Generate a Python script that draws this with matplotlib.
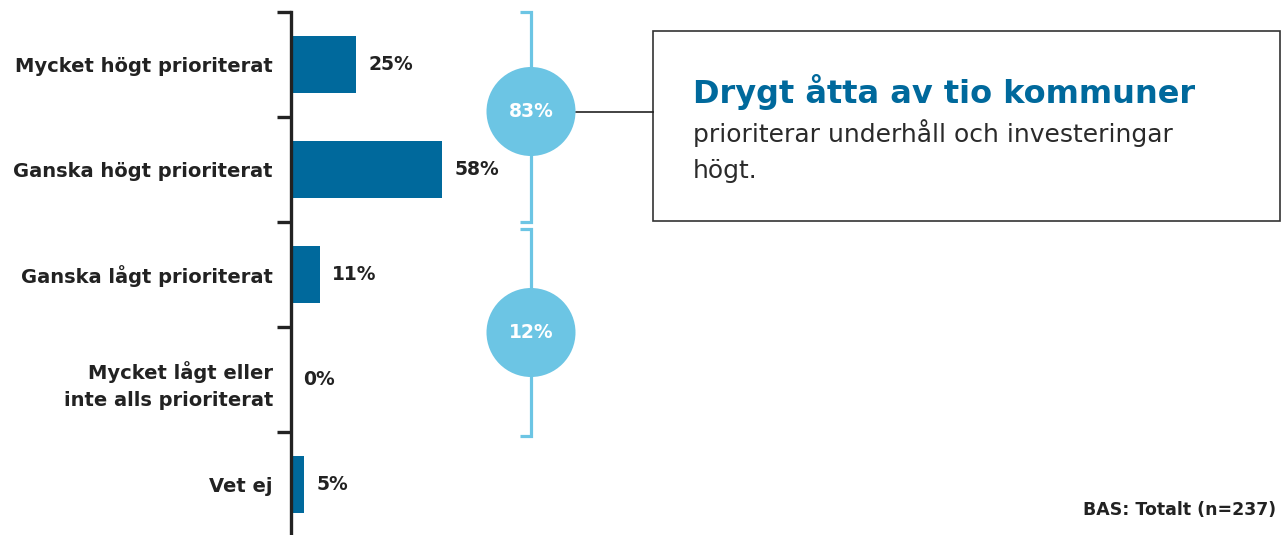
import matplotlib
matplotlib.use("Agg")
import matplotlib.pyplot as plt
from matplotlib.patches import Circle, Rectangle

# ---- data ----
categories = ["Mycket högt prioriterat", "Ganska högt prioriterat", "Ganska lågt prioriterat",
              "Mycket lågt eller\ninte alls prioriterat", "Vet ej"]
values = [25, 58, 11, 0, 5]
group_spans = [(0, 1), (2, 3)]
group_values = [83, 12]
box_title = "Drygt åtta av tio kommuner"
box_body_lines = ["prioriterar underhåll och investeringar", "högt."]
base_note = "BAS: Totalt (n=237)"

BAR = "#00699c"
LIGHT = "#6cc5e4"
DARK = "#222222"
plt.rcParams["font.family"] = ["DejaVu Sans"]

W, H = 1282, 535
fig = plt.figure(figsize=(W / 100, H / 100), dpi=100)

# main bar axes
ax = fig.add_axes([291 / W, -2 / H, (W - 291) / W, 525 / H])
y = list(range(len(categories)))
ax.barh(y, values, height=0.55, color=BAR)
ax.set_xlim(0, (W - 291) / 2.6)
ax.set_ylim(len(categories) - 0.5, -0.5)
for s in ["top", "right", "bottom"]:
    ax.spines[s].set_visible(False)
ax.spines["left"].set_linewidth(2.4)
ax.spines["left"].set_color(DARK)
ax.set_xticks([])
ax.set_yticks(y)
ax.set_yticklabels(categories, fontsize=14, fontweight="bold", color=DARK, linespacing=1.55)
ax.tick_params(axis="y", which="major", length=0, pad=13)
ax.set_yticks([i - 0.5 for i in range(len(categories) + 1)], minor=True)
ax.tick_params(axis="y", which="minor", length=10, width=2.4, color=DARK, direction="out")
ax.patch.set_alpha(0)
for yi, v in zip(y, values):
    ax.annotate(f"{v}%", (v, yi), xytext=(9, 0), textcoords="offset points",
                va="center", ha="left", fontsize=13.5, fontweight="bold", color=DARK)

# overlay axes in pixel coordinates for the annotations
ov = fig.add_axes([0, 0, 1, 1], zorder=3)
ov.set_xlim(0, W)
ov.set_ylim(H, 0)
ov.axis("off")
ov.patch.set_alpha(0)

fig.canvas.draw()


def to_px(yv):
    return H - ax.transData.transform((0, yv))[1]


bx = 531
centers = []
for k, ((a, b), gv) in enumerate(zip(group_spans, group_values)):
    top = to_px(a - 0.5) + (7 if k > 0 else 0)
    bot = to_px(b + 0.5) + (4 if k > 0 else 0)
    ov.plot([bx - 11, bx, bx, bx - 11], [top, top, bot, bot], color=LIGHT, lw=2.3,
            solid_joinstyle="miter", solid_capstyle="butt")
    cy = (top + bot) / 2 - (5.5 if k == 0 else 0)
    centers.append(cy)
    ov.add_patch(Circle((bx, cy), 44.5, facecolor=LIGHT, edgecolor="none", zorder=4))
    ov.text(bx, cy, f"{gv}%", ha="center", va="center", color="white",
            fontsize=13.5, fontweight="bold", zorder=5)

# callout box
ov.plot([bx + 44.5, 653], [centers[0], centers[0]], color=DARK, lw=1.2)
ov.add_patch(Rectangle((653, 31), 627, 190, facecolor="white", edgecolor="#333333", lw=1.2))
ov.text(693, 103, box_title, ha="left", va="baseline", fontsize=23, fontweight="bold", color=BAR)
for i, line in enumerate(box_body_lines):
    ov.text(693, 142 + 36 * i, line, ha="left", va="baseline", fontsize=18, color="#2a2a2a")

ov.text(1276, 510, base_note, ha="right", va="center", fontsize=12.5, fontweight="bold", color=DARK)

fig.savefig("out.png", dpi=100)
